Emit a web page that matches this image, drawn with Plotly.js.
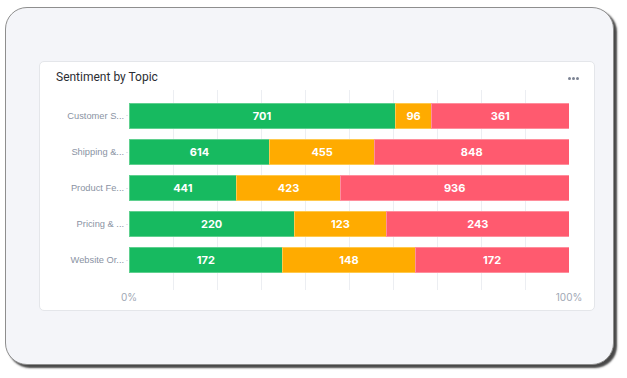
<!DOCTYPE html>
<html>
<head>
<meta charset="utf-8">
<script src="https://cdn.plot.ly/plotly-3.0.1.min.js"></script>
<style>
  html, body { margin:0; padding:0; width:627px; height:378px; background:#ffffff; overflow:hidden; font-family: Inter, Roboto, "Open Sans", sans-serif; }
  #frame { position:absolute; left:5px; top:7px; width:607px; height:356px; border:1px solid #8e8e8e; border-radius:22px; background:#f4f5f9; box-shadow: 3px 3px 2px rgba(40,40,40,0.85); }
  #card { position:absolute; left:39px; top:61px; width:554px; height:248px; background:#ffffff; border:1px solid #e4e6ea; border-radius:5px; }
  .dot { position:absolute; top:76.5px; width:3px; height:3px; border-radius:50%; background:#7d8494; }
  #chart { position:absolute; left:0; top:0; width:627px; height:378px; }
</style>
</head>
<body>
<div id="frame"></div>
<div id="card"></div>
<div class="dot" style="left:568px"></div>
<div class="dot" style="left:572px"></div>
<div class="dot" style="left:576px"></div>
<div id="chart"></div>
<script>
const categories = ["Customer S...", "Shipping &...", "Product Fe...", "Pricing & ...", "Website Or..."];
const positive = [701, 614, 441, 220, 172];
const neutral  = [96, 455, 423, 123, 148];
const negative = [361, 848, 936, 243, 172];
const seriesNames = ["Positive", "Neutral", "Negative"];
const colors = ["#17ba60", "#ffab00", "#ff5a6f"];
const lineColors = ["#5fd08f", "#ffc94d", "#ff8e9c"];
const tickVals = [0, 100];
const tickText = ["0%", "100%"];

const series = [positive, neutral, negative];
const traces = series.map((vals, i) => ({
  type: "bar",
  orientation: "h",
  name: seriesNames[i],
  y: categories,
  x: vals,
  text: vals.map(String),
  texttemplate: "%{text}",
  textposition: "inside",
  insidetextanchor: "middle",
  textangle: 0,
  constraintext: "none",
  textfont: { family: "Inter, 'Open Sans', sans-serif", size: 11, color: "#ffffff", weight: 700 },
  marker: { color: colors[i], line: { color: lineColors[i], width: 1 } },
  hoverinfo: "none"
}));

const layout = {
  width: 627, height: 378,
  paper_bgcolor: "rgba(0,0,0,0)",
  plot_bgcolor: "rgba(0,0,0,0)",
  margin: { l: 129, r: 58, t: 90, b: 88, pad: 0 },
  barmode: "stack",
  barnorm: "percent",
  bargap: 0.28,
  showlegend: false,
  title: {
    text: "Sentiment by Topic",
    x: 56/627, xanchor: "left", xref: "container",
    y: 1 - 77/378, yanchor: "middle", yref: "container",
    font: { family: "Roboto, Inter, sans-serif", size: 12, color: "#2b2d33" }
  },
  xaxis: {
    range: [0, 100],
    tickvals: tickVals,
    ticktext: tickText,
    showgrid: true,
    gridcolor: "#eceef2",
    gridwidth: 1,
    minor: { dtick: 10, tick0: 0, showgrid: true, gridcolor: "#eceef2", gridwidth: 1, ticks: "" },
    zeroline: false,
    showline: false,
    ticks: "",
    ticklabelstandoff: 0,
    tickfont: { family: "Inter, Roboto, sans-serif", size: 10, color: "#a0a7b4" },
    fixedrange: true
  },
  yaxis: {
    type: "category",
    range: [4.833, -0.722],
    showgrid: false,
    zeroline: false,
    showline: false,
    ticks: "outside",
    ticklen: 2,
    tickcolor: "#e3e6eb",
    ticklabelstandoff: 0,
    tickfont: { family: "'Liberation Sans', Arial, sans-serif", size: 9.3, color: "#8a93a3" },
    fixedrange: true
  }
};

Plotly.newPlot("chart", traces, layout, { displayModeBar: false, staticPlot: true });
</script>
</body>
</html>
